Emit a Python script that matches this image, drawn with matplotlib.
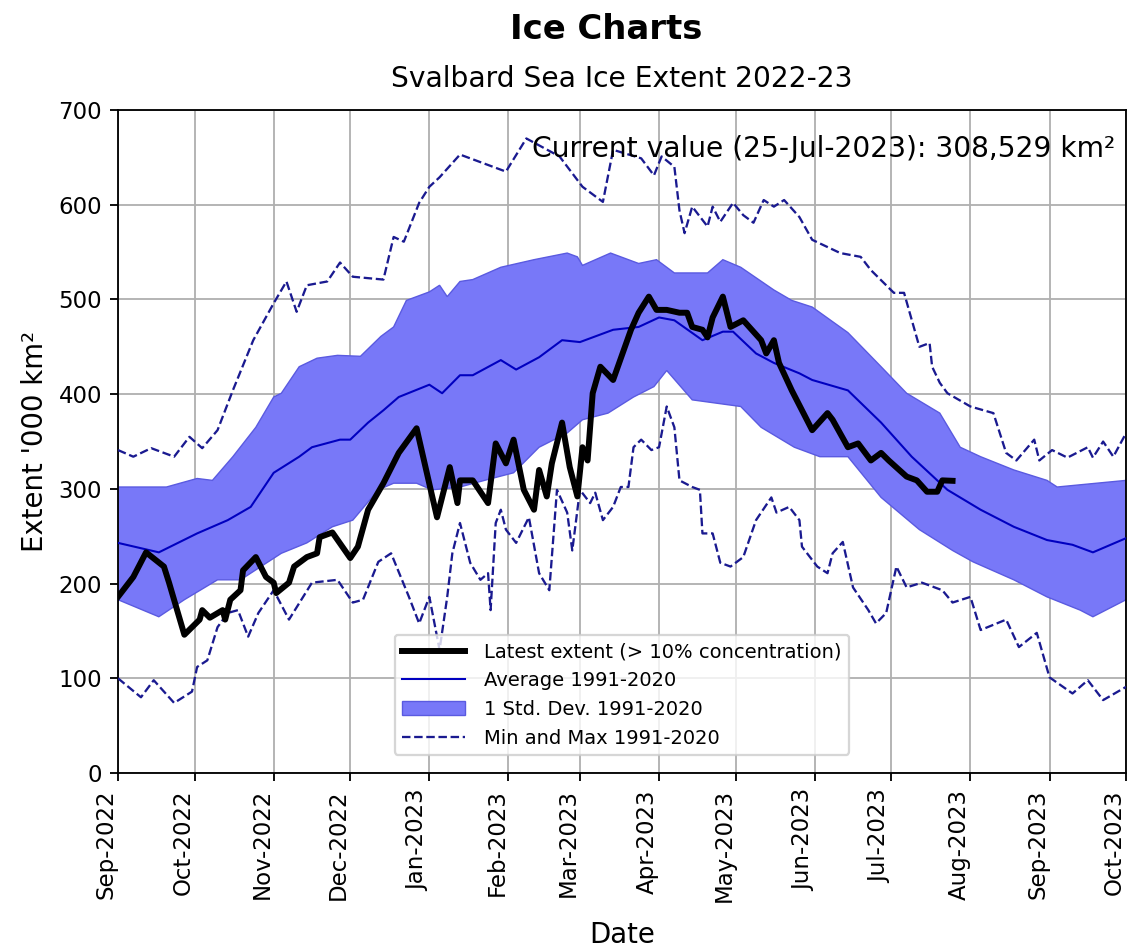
import numpy as np
import matplotlib
matplotlib.use("Agg")
import matplotlib.pyplot as plt
import matplotlib.dates as mdates

START = np.datetime64("2022-09-01")

# daily extent in '000 km2, days counted from START
latest_days = [0, 6, 11, 18, 20, 26, 32, 33, 36, 41, 42, 44, 48, 49, 54, 58, 61, 62, 67, 69,
               74, 78, 79, 84, 91, 94, 98, 104, 110, 117, 125, 130, 133, 134, 139, 145, 148, 152, 155, 159,
               163, 165, 168, 170, 174, 177, 180, 182, 184, 186, 189, 194, 201, 204, 208, 211, 215, 220, 223, 225,
               229, 231, 233, 237, 240, 245, 252, 254, 257, 259, 264, 272, 278, 280, 286, 290, 295, 299, 302, 309,
               313, 317, 321, 323, 327]
latest_vals = [186, 207, 233, 218, 201, 146, 162, 172, 164, 172, 162, 183, 193, 214, 228, 207, 201, 190, 201, 218,
               228, 232, 249, 254, 227, 239, 278, 306, 338, 364, 270, 323, 285, 309, 309, 285, 348, 327, 352, 299,
               278, 320, 292, 327, 370, 323, 292, 344, 330, 401, 429, 415, 468, 486, 503, 489, 489, 486, 486, 471,
               468, 460, 481, 503, 471, 478, 457, 443, 457, 433, 404, 362, 380, 373, 344, 348, 330, 338, 330, 313,
               309, 297, 297, 309, 308.529]

avg_days = [0, 16, 31, 43, 52, 61, 71, 76, 87, 91, 98, 104, 110, 122, 127, 134, 139, 150, 156, 165,
            174, 181, 194, 204, 212, 218, 229, 237, 241, 250, 257, 267, 272, 286, 299, 311, 325, 338, 351, 364,
            374, 382, 395]
avg_vals = [243, 233, 253, 267, 281, 317, 334, 344, 352, 352, 370, 383, 397, 410, 401, 420, 420, 436, 426, 439,
            457, 455, 468, 471, 481, 478, 457, 466, 466, 443, 433, 422, 415, 404, 370, 334, 299, 278, 260, 246,
            241, 233, 248]

sd_up_days = [0, 19, 31, 37, 45, 54, 61, 64, 71, 78, 86, 95, 103, 108, 113, 122, 126, 129, 134, 139,
              150, 163, 176, 180, 182, 193, 204, 211, 218, 231, 237, 244, 257, 264, 272, 286, 299, 309, 322, 330,
              338, 351, 364, 368, 395]
sd_up_vals = [302, 302, 311, 309, 334, 365, 397, 401, 429, 438, 441, 440, 461, 471, 499, 508, 515, 503, 519, 521,
              534, 542, 549, 545, 536, 549, 538, 542, 528, 528, 542, 534, 510, 499, 492, 465, 429, 401, 380, 344,
              334, 320, 309, 302, 309]

sd_lo_days = [0, 16, 26, 39, 48, 56, 64, 74, 84, 92, 102, 108, 117, 123, 134, 145, 155, 165, 176, 182,
              192, 202, 210, 215, 225, 244, 252, 265, 275, 286, 299, 314, 327, 335, 351, 364, 377, 382, 395]
sd_lo_vals = [183, 165, 183, 204, 204, 218, 232, 243, 260, 267, 299, 306, 306, 299, 302, 310, 317, 344, 359, 373,
              380, 397, 408, 425, 394, 387, 365, 344, 334, 334, 291, 257, 235, 223, 204, 186, 172, 165, 183]

max_days = [0, 6, 13, 22, 28, 33, 39, 45, 53, 61, 66, 70, 74, 82, 87, 92, 104, 108, 112, 118,
            122, 126, 134, 152, 160, 173, 182, 190, 194, 205, 210, 213, 218, 220, 222, 225, 231, 233, 236, 241,
            245, 249, 253, 257, 261, 267, 272, 283, 291, 295, 304, 308, 314, 318, 319, 322, 325, 334, 343, 348,
            352, 359, 361, 366, 372, 380, 382, 386, 390, 395]
max_vals = [341, 334, 343, 334, 355, 343, 362, 404, 457, 496, 519, 487, 515, 519, 539, 524, 521, 566, 561, 602,
            619, 629, 653, 635, 670, 651, 619, 603, 658, 649, 631, 651, 640, 594, 570, 598, 577, 598, 582, 602,
            589, 581, 605, 598, 605, 587, 563, 549, 545, 531, 507, 507, 450, 454, 429, 412, 401, 387, 380, 338,
            330, 352, 330, 341, 333, 344, 333, 350, 334, 359]

min_days = [0, 9, 14, 22, 29, 31, 35, 39, 43, 47, 51, 55, 61, 67, 76, 86, 92, 96, 102, 107,
            114, 118, 122, 126, 129, 131, 134, 138, 142, 145, 146, 148, 150, 152, 156, 161, 165, 169, 172, 176,
            178, 181, 185, 187, 190, 194, 197, 200, 202, 205, 209, 212, 215, 218, 220, 225, 228, 229, 233, 236,
            240, 245, 250, 256, 258, 263, 267, 268, 274, 278, 280, 284, 288, 294, 297, 301, 305, 309, 315, 323,
            327, 334, 338, 348, 353, 360, 365, 374, 380, 386, 395]
min_vals = [100, 80, 98, 74, 86, 112, 119, 154, 169, 172, 144, 169, 193, 162, 201, 204, 180, 183, 223, 232,
            186, 158, 186, 130, 186, 232, 264, 222, 204, 211, 172, 264, 278, 257, 243, 270, 211, 193, 299, 275,
            235, 299, 285, 296, 267, 281, 302, 302, 344, 352, 341, 344, 387, 365, 309, 302, 299, 253, 253, 222,
            218, 228, 267, 291, 275, 281, 267, 239, 218, 211, 232, 244, 196, 172, 158, 169, 218, 196, 201, 193,
            180, 186, 151, 162, 133, 148, 101, 84, 98, 77, 91]

current_label = "Current value (25-Jul-2023): 308,529 km\u00b2"


def to_dates(days):
    return START + np.array(days).astype("timedelta64[D]")


fig = plt.figure(figsize=(1127 / 165, 947 / 165), dpi=165)
ax = fig.add_axes([0.1047, 0.1837, 0.8945, 0.7001])

# std dev band as a closed polygon: upper edge forward, lower edge back
band_x = np.concatenate([to_dates(sd_up_days), to_dates(sd_lo_days)[::-1]])
band_y = np.concatenate([sd_up_vals, sd_lo_vals[::-1]])

ax.plot(to_dates(latest_days), latest_vals, color="black", lw=2.6, label="Latest extent (> 10% concentration)", zorder=5)
ax.plot(to_dates(avg_days), avg_vals, color="#0000c0", lw=0.9, label="Average 1991-2020", zorder=4)
ax.fill(band_x, band_y, facecolor="#7878f8", edgecolor="#5a5ae0", lw=0.6, label="1 Std. Dev. 1991-2020", zorder=2)
ax.plot(to_dates(max_days), max_vals, color="#1a1a90", lw=1.0, ls="--", label="Min and Max 1991-2020", zorder=3)
ax.plot(to_dates(min_days), min_vals, color="#1a1a90", lw=1.0, ls="--", zorder=3)

ax.set_xlim(np.datetime64("2022-09-01"), np.datetime64("2023-10-01"))
ax.set_ylim(0, 700)
ax.xaxis.set_major_locator(mdates.MonthLocator())
ax.xaxis.set_major_formatter(mdates.DateFormatter("%b-%Y"))
plt.setp(ax.get_xticklabels(), rotation=90, ha="right")
ax.grid(True, color="#b0b0b0", lw=0.8)
ax.set_axisbelow(True)

ax.set_xlabel("Date", fontsize=12, labelpad=8)
ax.set_ylabel("Extent '000 km\u00b2", fontsize=12)
ax.set_title("Svalbard Sea Ice Extent 2022-23", fontsize=12.3, pad=10)
fig.suptitle("Ice Charts", fontsize=14.8, fontweight="bold", x=0.538, y=0.986)

ax.text(0.989, 0.962, current_label, transform=ax.transAxes, ha="right", va="top", fontsize=12.3, zorder=6)

ax.legend(loc="lower center", bbox_to_anchor=(0.5, 0.012), fontsize=8.5, framealpha=0.8,
          handlelength=3.2, handletextpad=1.0)

fig.savefig("out.png", dpi=165)
